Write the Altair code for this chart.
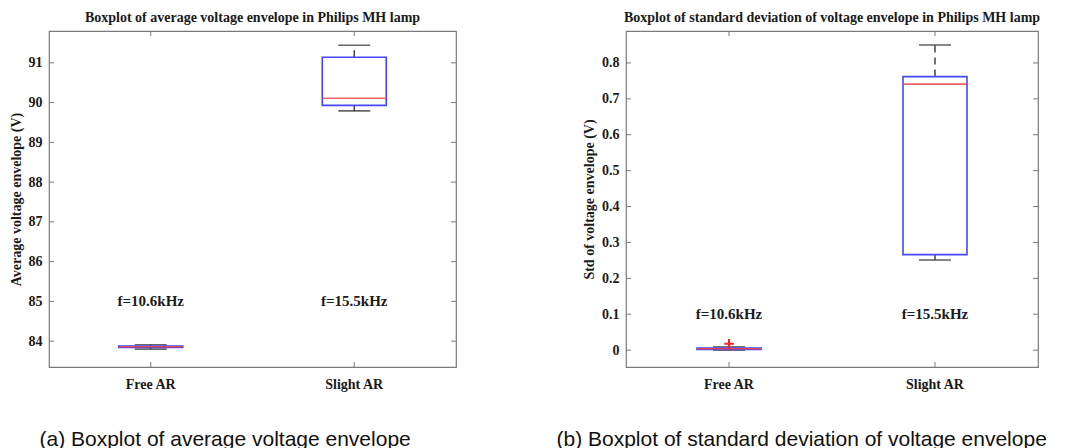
import altair as alt
import pandas as pd

# ---------------- data ----------------
categories = ["Free AR", "Slight AR"]
freq_labels = ["f=10.6kHz", "f=15.5kHz"]

# (a) average voltage envelope (V)
avg_low = [83.80, 89.79]
avg_q1 = [83.84, 89.93]
avg_med = [83.86, 90.11]
avg_q3 = [83.88, 91.14]
avg_high = [83.91, 91.44]
avg_out_cat = []
avg_out_val = []
avg_ticks = [84, 85, 86, 87, 88, 89, 90, 91]
avg_label_y = [85, 85]

# (b) standard deviation of voltage envelope (V)
std_low = [0.000, 0.251]
std_q1 = [0.002, 0.266]
std_med = [0.004, 0.741]
std_q3 = [0.006, 0.762]
std_high = [0.009, 0.850]
std_out_cat = ["Free AR"]
std_out_val = [0.018]
std_ticks = [0.0, 0.1, 0.2, 0.3, 0.4, 0.5, 0.6, 0.7, 0.8]
std_label_y = [0.1, 0.1]

# ---------------- style ----------------
BLUE = "#4646f5"
RED = "#f04848"
BLACK = "#262626"
FRAME = "#7a7a7a"
SERIF = "Liberation Serif"
SANS = "Liberation Sans"
W_A, W_B, H = 407, 412, 336


def panel(title, ytitle, caption, caption_x, low, q1, med, q3, high,
          out_cat, out_val, ticks, label_y, domain, fmt, W):
    box = pd.DataFrame({"cat": categories, "low": low, "q1": q1, "med": med,
                        "q3": q3, "high": high})
    xaxis = alt.Axis(title=caption, labelAngle=0, labelPadding=10,
                     titleFont=SANS, titleFontWeight="normal", titleFontSize=21,
                     titleColor="#111", titleAnchor="start", titleAlign="left",
                     titleX=caption_x, titleY=61, titleBaseline="top")
    xenc = alt.X("cat:N", scale=alt.Scale(domain=categories, paddingInner=0,
                                          paddingOuter=0), axis=xaxis)
    yscale = alt.Scale(domain=domain, nice=False, zero=False)
    yaxis = alt.Axis(title=ytitle, values=ticks, format=fmt, labelPadding=7,
                     titlePadding=5)

    def Y(f):
        return alt.Y(f, type="quantitative", scale=yscale, axis=yaxis)

    base = alt.Chart(box)
    whisk_up = base.mark_rule(color=BLACK, strokeWidth=1.3, strokeDash=[7, 5]).encode(
        x=xenc, y=Y("q3"), y2="high:Q")
    whisk_dn = base.mark_rule(color=BLACK, strokeWidth=1.3, strokeDash=[7, 5]).encode(
        x=xenc, y=Y("low"), y2="q1:Q")
    cap_up = base.mark_tick(color=BLACK, size=32, thickness=1.6).encode(x=xenc, y=Y("high"))
    cap_dn = base.mark_tick(color=BLACK, size=32, thickness=1.6).encode(x=xenc, y=Y("low"))
    boxes = base.mark_bar(size=64, fillOpacity=0, stroke=BLUE, strokeWidth=1.6).encode(
        x=xenc, y=Y("q1"), y2="q3:Q")
    medians = base.mark_tick(color=RED, size=64, thickness=1.6, opacity=0.85).encode(
        x=xenc, y=Y("med"))

    layers = [whisk_up, whisk_dn, cap_up, cap_dn, boxes, medians]

    if out_cat:
        out = alt.Chart(pd.DataFrame({"cat": out_cat, "v": out_val})).mark_point(
            shape="M-1,0H1M0,-1V1", filled=False, stroke="#ff2020", strokeWidth=2,
            size=90, opacity=1
        ).encode(x=xenc, y=Y("v"))
        layers.append(out)

    ann = alt.Chart(pd.DataFrame({"cat": categories, "label": freq_labels, "y": label_y})).mark_text(
        font=SERIF, fontWeight="bold", fontSize=15, color="#1a1a1a", baseline="middle"
    ).encode(x=xenc, y=Y("y"), text="label:N")
    layers.append(ann)

    # inward tick marks on all four sides (MATLAB style box)
    tdf = alt.Chart(pd.DataFrame({"v": ticks}))
    layers.append(tdf.mark_rule(color=FRAME, strokeWidth=1).encode(
        y=Y("v"), x=alt.value(0), x2=alt.value(5)))
    layers.append(tdf.mark_rule(color=FRAME, strokeWidth=1).encode(
        y=Y("v"), x=alt.value(W - 5), x2=alt.value(W)))
    cdf = alt.Chart(pd.DataFrame({"cat": categories}))
    layers.append(cdf.mark_rule(color=FRAME, strokeWidth=1).encode(
        x=xenc, y=alt.value(0), y2=alt.value(5)))
    layers.append(cdf.mark_rule(color=FRAME, strokeWidth=1).encode(
        x=xenc, y=alt.value(H - 5), y2=alt.value(H)))

    return alt.layer(*layers).properties(
        width=W, height=H,
        title=alt.TitleParams(title, font=SERIF, fontSize=14, fontWeight="bold",
                              color="#1a1a1a", offset=6, anchor="middle"))


left = panel("Boxplot of average voltage envelope in Philips MH lamp",
             "Average voltage envelope (V)",
             "(a) Boxplot of average voltage envelope", -10,
             avg_low, avg_q1, avg_med, avg_q3, avg_high, avg_out_cat, avg_out_val,
             avg_ticks, avg_label_y, [83.35, 91.8], "d", W_A)

right = panel("Boxplot of standard deviation of voltage envelope in Philips MH lamp",
              "Std of voltage envelope (V)",
              "(b) Boxplot of standard deviation of voltage envelope", -70,
              std_low, std_q1, std_med, std_q3, std_high, std_out_cat, std_out_val,
              std_ticks, std_label_y, [-0.047, 0.889], ".1~f", W_B)

chart = alt.hconcat(left, right, spacing=170, bounds="flush").properties(
    padding={"left": 0, "top": 1, "right": 5, "bottom": 0},
    background="white"
).configure_view(stroke=FRAME, strokeWidth=1.2).configure_axis(
    grid=False, domain=False, ticks=False,
    labelFont=SERIF, labelFontWeight="bold", labelFontSize=14, labelColor="#1a1a1a",
    titleFont=SERIF, titleFontWeight="bold", titleFontSize=14, titleColor="#1a1a1a"
)

chart.save("out.html", embed_options={"renderer": "svg", "actions": False})
